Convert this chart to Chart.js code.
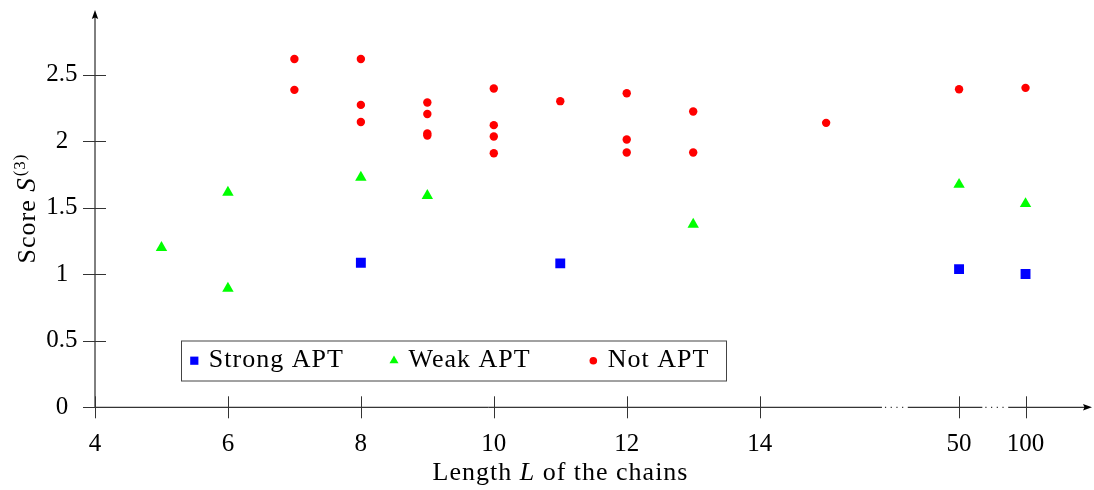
<!DOCTYPE html>
<html>
<head>
<meta charset="utf-8">
<script src="https://cdn.jsdelivr.net/npm/chart.js@4.4.1/dist/chart.umd.min.js"></script>
<style>
  html, body { margin: 0; padding: 0; background: #fff; }
  #wrap { width: 1094px; height: 490px; }
</style>
</head>
<body>
<div id="wrap"><canvas id="chart"></canvas></div>
<script>
// Chain lengths L and the measured scores S^(3), one list per class
const strongL = [8, 11, 50, 100];
const strongS = [1.086, 1.081, 1.038, 1.001];

const weakL = [5, 6, 6, 8, 9, 13, 50, 100];
const weakS = [1.20, 1.615, 0.893, 1.727, 1.59, 1.374, 1.674, 1.529];

const notL = [7, 7, 8, 8, 8, 9, 9, 9, 9, 10, 10, 10, 10, 11, 12, 12, 12, 13, 13, 15, 50, 100];
const notS = [2.617, 2.385, 2.617, 2.272, 2.144, 2.29, 2.204, 2.057, 2.042,
              2.395, 2.12, 2.035, 1.909, 2.30, 2.36, 2.012, 1.914, 2.222, 1.914, 2.137, 2.39, 2.40];

// x axis is broken after 15: L=50 and L=100 sit at positions 17 and 18
const brokenPos = { 50: 17, 100: 18 };
const xTickPos = [4, 6, 8, 10, 12, 14, 17, 18];
const xTickLabels = ["4", "6", "8", "10", "12", "14", "50", "100"];
const yTicks = [0, 0.5, 1, 1.5, 2, 2.5];
const yTickLabels = ["0", "0.5", "1", "1.5", "2", "2.5"];

const SERIF = "'Liberation Serif', 'Times New Roman', serif";

function toPos(L) {
  return brokenPos[L] !== undefined ? brokenPos[L] : L;
}
function points(ls, ss) {
  return ls.map((l, i) => ({ x: toPos(l), y: ss[i] }));
}
// text made of pieces with their own font, laid out left to right
function drawPieces(ctx, parts, cx, y) {
  let w = 0;
  parts.forEach(p => { ctx.font = p[1]; w += ctx.measureText(p[0]).width + (p[3] || 0); });
  let x = cx - w / 2;
  parts.forEach(p => {
    ctx.font = p[1];
    ctx.fillText(p[0], x, y + (p[2] || 0));
    x += ctx.measureText(p[0]).width + (p[3] || 0);
  });
}

// axes, arrows, tick marks, breaks, titles and legend
const decorations = {
  id: "decorations",
  afterDraw(chart) {
    const ctx = chart.ctx;
    const xs = chart.scales.x;
    const ys = chart.scales.y;
    const area = chart.chartArea;
    const y0 = ys.getPixelForValue(0);
    const x0 = xs.getPixelForValue(4);

    ctx.save();
    ctx.strokeStyle = "#000";
    ctx.fillStyle = "#000";
    ctx.lineWidth = 1;

    // x axis with two breaks
    const breaks = [[15.84, 16.23], [17.35, 17.74]];
    let start = x0;
    breaks.forEach(([a, b]) => {
      const pa = xs.getPixelForValue(a);
      const pb = xs.getPixelForValue(b);
      ctx.beginPath();
      ctx.moveTo(start, y0);
      ctx.lineTo(pa, y0);
      ctx.stroke();
      ctx.save();
      ctx.setLineDash([1.2, 4.5]);
      ctx.beginPath();
      ctx.moveTo(pa + 3, y0);
      ctx.lineTo(pb, y0);
      ctx.stroke();
      ctx.restore();
      start = pb;
    });
    ctx.beginPath();
    ctx.moveTo(start, y0);
    ctx.lineTo(area.right - 6, y0);
    ctx.stroke();
    ctx.beginPath();
    ctx.moveTo(area.right, y0);
    ctx.lineTo(area.right - 9, y0 - 3.2);
    ctx.lineTo(area.right - 7.5, y0);
    ctx.lineTo(area.right - 9, y0 + 3.2);
    ctx.closePath();
    ctx.fill();

    // y axis
    ctx.beginPath();
    ctx.moveTo(x0, y0);
    ctx.lineTo(x0, area.top + 6);
    ctx.stroke();
    ctx.beginPath();
    ctx.moveTo(x0, area.top);
    ctx.lineTo(x0 - 3.2, area.top + 9);
    ctx.lineTo(x0, area.top + 7.5);
    ctx.lineTo(x0 + 3.2, area.top + 9);
    ctx.closePath();
    ctx.fill();

    // tick marks crossing the axes
    ctx.strokeStyle = "#333";
    xTickPos.forEach(v => {
      const px = Math.round(xs.getPixelForValue(v)) + 0.5;
      ctx.beginPath();
      ctx.moveTo(px, y0 - 11);
      ctx.lineTo(px, y0 + 11);
      ctx.stroke();
    });
    yTicks.forEach(v => {
      const py = Math.round(ys.getPixelForValue(v)) + 0.5;
      ctx.beginPath();
      ctx.moveTo(x0 - 12, py);
      ctx.lineTo(x0 + 11, py);
      ctx.stroke();
    });

    ctx.fillStyle = "#000";
    ctx.textBaseline = "alphabetic";
    ctx.textAlign = "left";
    ctx.letterSpacing = "1px";

    // x title: Length L of the chains
    drawPieces(ctx, [
      ["Length ", "26px " + SERIF],
      ["L", "italic 26px " + SERIF],
      [" of the chains", "26px " + SERIF]
    ], 560.5, 480);

    // y title: Score S^(3), rotated
    ctx.save();
    ctx.translate(35, 208.5);
    ctx.rotate(-Math.PI / 2);
    drawPieces(ctx, [
      ["Score ", "26px " + SERIF],
      ["S", "italic 27px " + SERIF, 0, 1],
      ["(3)", "17px " + SERIF, -10]
    ], 0, 0);
    ctx.restore();

    // legend box
    const box = { left: 181, top: 340.5, right: 726, bottom: 380.5 };
    ctx.fillStyle = "#fff";
    ctx.fillRect(box.left, box.top, box.right - box.left, box.bottom - box.top);
    ctx.strokeStyle = "#444";
    ctx.lineWidth = 1;
    ctx.strokeRect(box.left + 0.5, box.top + 0.5, box.right - box.left, box.bottom - box.top);

    const legendX = [194.3, 394, 593.3];
    const legendR = [5.8, 5.2, 3.8];
    chart.data.datasets.forEach((ds, i) => {
      ctx.fillStyle = ds.backgroundColor;
      Chart.helpers.drawPoint(ctx, {
        pointStyle: ds.pointStyle, radius: legendR[i], rotation: 0, borderWidth: 0
      }, legendX[i], 360.7);
      ctx.fillStyle = "#000";
      ctx.font = "26px " + SERIF;
      ctx.textAlign = "left";
      ctx.fillText(ds.label, legendX[i] + 14.5, 367);
    });

    ctx.restore();
  }
};

// keep Chart.js from adding room for tick labels at the ends of an axis
function noEndPadding(s) {
  s.paddingTop = 0;
  s.paddingBottom = 0;
  s.paddingLeft = 0;
  s.paddingRight = 0;
}

new Chart(document.getElementById("chart"), {
  type: "scatter",
  data: {
    datasets: [
      {
        label: "Strong APT",
        data: points(strongL, strongS),
        pointStyle: "rect",
        pointRadius: 7,
        pointHoverRadius: 7,
        borderWidth: 0,
        backgroundColor: "#0000ff",
        borderColor: "#0000ff"
      },
      {
        label: "Weak APT",
        data: points(weakL, weakS),
        pointStyle: "triangle",
        pointRadius: 6.6,
        pointHoverRadius: 6.6,
        borderWidth: 0,
        backgroundColor: "#00ff00",
        borderColor: "#00ff00"
      },
      {
        label: "Not APT",
        data: points(notL, notS),
        pointStyle: "circle",
        pointRadius: 4.2,
        pointHoverRadius: 4.2,
        borderWidth: 0,
        backgroundColor: "#ff0000",
        borderColor: "#ff0000"
      }
    ]
  },
  options: {
    responsive: true,
    maintainAspectRatio: false,
    animation: false,
    events: [],
    layout: { autoPadding: false, padding: { left: 0, right: 2, top: 10, bottom: 0 } },
    plugins: {
      legend: { display: false },
      tooltip: { enabled: false }
    },
    scales: {
      x: {
        type: "linear",
        min: 4,
        max: 19,
        grid: { display: false, drawTicks: false },
        border: { display: false },
        afterBuildTicks: s => { s.ticks = xTickPos.map(v => ({ value: v })); },
        afterFit: s => { s.height = 82.7; noEndPadding(s); },
        ticks: {
          padding: 22,
          color: "#000",
          maxRotation: 0,
          autoSkip: false,
          font: { family: SERIF, size: 25 },
          callback: v => xTickLabels[xTickPos.indexOf(v)]
        }
      },
      y: {
        type: "linear",
        min: 0,
        max: 2.985,
        grid: { display: false, drawTicks: false },
        border: { display: false },
        afterBuildTicks: s => { s.ticks = yTicks.map(v => ({ value: v })); },
        afterFit: s => { s.width = 95; noEndPadding(s); },
        ticks: {
          padding: 17.5,
          crossAlign: "center",
          color: "#000",
          autoSkip: false,
          font: { family: SERIF, size: 25 },
          callback: v => yTickLabels[yTicks.indexOf(v)]
        }
      }
    }
  },
  plugins: [decorations]
});
</script>
</body>
</html>
